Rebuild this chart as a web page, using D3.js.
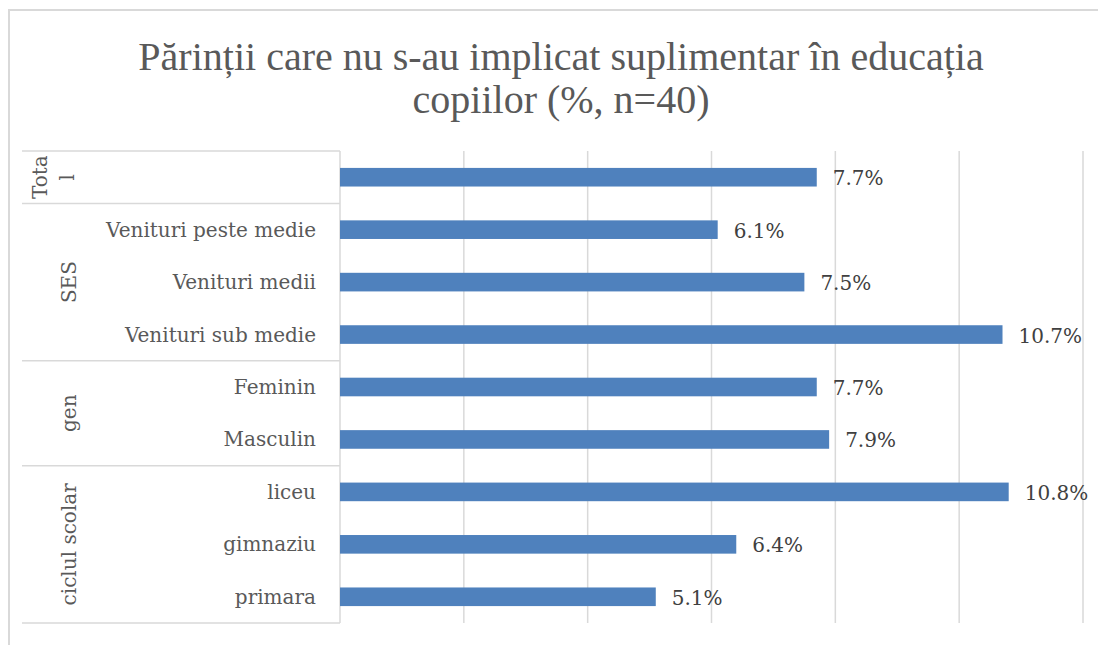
<!DOCTYPE html>
<html>
<head>
<meta charset="utf-8">
<script src="https://cdn.jsdelivr.net/npm/d3@7"></script>
<style>
  body { margin: 0; background: #fff; }
  text { font-family: "DejaVu Serif", "Liberation Serif", serif; }
  .title { font-family: "Liberation Serif", "DejaVu Serif", serif; }
</style>
</head>
<body>
<div id="chart"></div>
<script>
// chart data
var categories = ["", "Venituri peste medie", "Venituri medii", "Venituri sub medie",
                  "Feminin", "Masculin", "liceu", "gimnaziu", "primara"];
var values = [7.7, 6.1, 7.5, 10.7, 7.7, 7.9, 10.8, 6.4, 5.1];
var groupNames = [["Tota", "l"], ["SES"], ["gen"], ["ciclul scolar"]];
var groupSizes = [1, 3, 2, 3];
var xTicks = [0, 2, 4, 6, 8, 10, 12];
var titleLines = ["Părinții care nu s-au implicat suplimentar în educația", "copiilor (%, n=40)"];

var viz = viz || {};

viz.bars = function(options)
{
    var self = {};
    for (var key in options){
        self[key] = options[key];
    }
    self.parent_select = "#" + self.id_name;

    self.init = function(){
        self.svg = d3.select(self.parent_select).append("svg")
            .attr("width", self.width)
            .attr("height", self.height);

        // frame (cut off on the right and bottom like the screenshot)
        self.svg.append("path")
            .attr("d", "M9," + self.height + "V10H" + self.width)
            .attr("fill", "none")
            .attr("stroke", "#d9d9d9")
            .attr("stroke-width", 2);

        self.x = d3.scaleLinear().domain([0, 12]).range([340, 1083]);
        self.y = d3.scaleBand().domain(d3.range(categories.length))
            .range([151, 623]).paddingInner(0.645).paddingOuter(0.3225);
    };

    self.render = function(){
        var svg = self.svg, x = self.x, y = self.y;

        // title
        svg.append("text")
            .attr("class", "title")
            .attr("text-anchor", "middle")
            .attr("fill", "#595959")
            .style("font-size", "40px")
            .selectAll("tspan").data(titleLines).join("tspan")
            .attr("x", 561)
            .attr("y", function(d, i){ return 70 + i * 43; })
            .text(function(d){ return d; });

        // vertical gridlines
        svg.append("g").selectAll("line").data(xTicks).join("line")
            .attr("x1", function(d){ return x(d); })
            .attr("x2", function(d){ return x(d); })
            .attr("y1", 151).attr("y2", 623)
            .attr("stroke", "#d9d9d9")
            .attr("stroke-width", 1.5);

        // group separators of the multi-level axis
        var bounds = [0];
        groupSizes.forEach(function(n, i){ bounds.push(bounds[i] + n); });
        var step = y.step();
        var edge = function(i){ return y.range()[0] + i * step; };
        svg.append("g").selectAll("line").data(bounds).join("line")
            .attr("x1", 22).attr("x2", 340)
            .attr("y1", function(d){ return edge(d); })
            .attr("y2", function(d){ return edge(d); })
            .attr("stroke", "#d9d9d9")
            .attr("stroke-width", 1.5);

        // group labels, rotated
        var gl = svg.append("g").selectAll("text").data(groupNames).join("text")
            .attr("text-anchor", "middle")
            .attr("fill", "#595959")
            .style("font-size", "20px")
            .attr("transform", function(d, i){
                var cy = (edge(bounds[i]) + edge(bounds[i + 1])) / 2;
                var cx = d.length > 1 ? 47 : 76;
                return "translate(" + cx + "," + cy + ") rotate(-90)";
            });
        gl.selectAll("tspan").data(function(d){ return d; }).join("tspan")
            .attr("x", 0)
            .attr("y", function(d, i){ return i * 27; })
            .text(function(d){ return d; });

        // category labels
        svg.append("g").selectAll("text").data(categories).join("text")
            .attr("x", 316)
            .attr("y", function(d, i){ return y(i) + y.bandwidth() / 2 + 7; })
            .attr("text-anchor", "end")
            .attr("fill", "#595959")
            .style("font-size", "20px")
            .text(function(d){ return d; });

        // bars
        svg.append("g").selectAll("rect").data(values).join("rect")
            .attr("x", x(0))
            .attr("y", function(d, i){ return y(i); })
            .attr("width", function(d){ return x(d) - x(0); })
            .attr("height", y.bandwidth())
            .attr("fill", "#4f81bd");

        // value labels
        svg.append("g").selectAll("text").data(values).join("text")
            .attr("x", function(d){ return x(d) + 16; })
            .attr("y", function(d, i){ return y(i) + y.bandwidth() / 2 + 8; })
            .attr("fill", "#404040")
            .style("font-size", "20px")
            .text(function(d){ return d.toFixed(1) + "%"; });
    };

    self.init();
    return self;
};

var chart = viz.bars({id_name: "chart", width: 1098, height: 645});
chart.render();
</script>
</body>
</html>
